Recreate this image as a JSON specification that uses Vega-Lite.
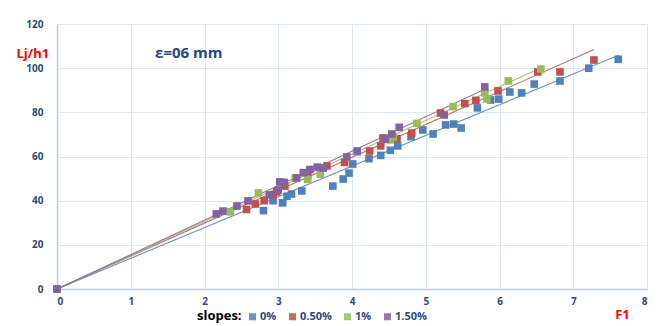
{
  "$schema": "https://vega.github.io/schema/vega-lite/v6.json",
  "width": 590,
  "height": 265,
  "autosize": {"type": "none"},
  "padding": {"left": 57, "top": 24, "right": 25, "bottom": 37},
  "background": "white",
  "config": {
    "view": {"stroke": null},
    "font": "Open Sans",
    "axis": {
      "gridColor": "#dce6f2",
      "gridWidth": 1,
      "domainColor": "#b8cce4",
      "domainWidth": 1.5,
      "ticks": false,
      "labelColor": "#2c4a78",
      "labelFont": "Open Sans",
      "labelFontWeight": "bold",
      "labelFontSize": 10,
      "titleFont": "Open Sans",
      "titleColor": "#ff0000",
      "titleFontWeight": "bold",
      "titleFontSize": 13
    }
  },
  "datasets": {
    "points": [
      {"series": "0%", "F1": 0, "Lj": 0},
      {"series": "0%", "F1": 2.8, "Lj": 35.5},
      {"series": "0%", "F1": 2.93, "Lj": 40},
      {"series": "0%", "F1": 3.06, "Lj": 39},
      {"series": "0%", "F1": 3.12, "Lj": 42},
      {"series": "0%", "F1": 3.18, "Lj": 43},
      {"series": "0%", "F1": 3.32, "Lj": 44.4},
      {"series": "0%", "F1": 3.74, "Lj": 46.6},
      {"series": "0%", "F1": 3.88, "Lj": 49.8},
      {"series": "0%", "F1": 3.96, "Lj": 52.5},
      {"series": "0%", "F1": 4.01, "Lj": 56.6},
      {"series": "0%", "F1": 4.23, "Lj": 59},
      {"series": "0%", "F1": 4.39, "Lj": 60.5},
      {"series": "0%", "F1": 4.52, "Lj": 62.8},
      {"series": "0%", "F1": 4.62, "Lj": 64.8},
      {"series": "0%", "F1": 4.8, "Lj": 69},
      {"series": "0%", "F1": 4.96, "Lj": 72},
      {"series": "0%", "F1": 5.1, "Lj": 70.2},
      {"series": "0%", "F1": 5.27, "Lj": 74.3},
      {"series": "0%", "F1": 5.38, "Lj": 74.7},
      {"series": "0%", "F1": 5.48, "Lj": 72.9},
      {"series": "0%", "F1": 5.7, "Lj": 82},
      {"series": "0%", "F1": 5.88, "Lj": 85.6},
      {"series": "0%", "F1": 5.99, "Lj": 86},
      {"series": "0%", "F1": 6.14, "Lj": 89.2},
      {"series": "0%", "F1": 6.3, "Lj": 88.8},
      {"series": "0%", "F1": 6.47, "Lj": 92.8},
      {"series": "0%", "F1": 6.82, "Lj": 94.2},
      {"series": "0%", "F1": 7.21, "Lj": 100},
      {"series": "0%", "F1": 7.61, "Lj": 104},
      {"series": "0.50%", "F1": 0, "Lj": 0},
      {"series": "0.50%", "F1": 2.57, "Lj": 36},
      {"series": "0.50%", "F1": 2.69, "Lj": 38.5},
      {"series": "0.50%", "F1": 2.81, "Lj": 40},
      {"series": "0.50%", "F1": 2.93, "Lj": 42.6},
      {"series": "0.50%", "F1": 2.98, "Lj": 44},
      {"series": "0.50%", "F1": 3.09, "Lj": 46.6},
      {"series": "0.50%", "F1": 3.4, "Lj": 51.6},
      {"series": "0.50%", "F1": 3.66, "Lj": 55.7},
      {"series": "0.50%", "F1": 3.9, "Lj": 57.3},
      {"series": "0.50%", "F1": 4.24, "Lj": 62.5},
      {"series": "0.50%", "F1": 4.39, "Lj": 64.8},
      {"series": "0.50%", "F1": 4.42, "Lj": 68.4},
      {"series": "0.50%", "F1": 4.61, "Lj": 68},
      {"series": "0.50%", "F1": 4.81, "Lj": 70.6},
      {"series": "0.50%", "F1": 5.2, "Lj": 79.7},
      {"series": "0.50%", "F1": 5.53, "Lj": 84},
      {"series": "0.50%", "F1": 5.68, "Lj": 85.4},
      {"series": "0.50%", "F1": 5.98, "Lj": 89.7},
      {"series": "0.50%", "F1": 6.52, "Lj": 98.3},
      {"series": "0.50%", "F1": 6.82, "Lj": 98.3},
      {"series": "0.50%", "F1": 7.28, "Lj": 103.7},
      {"series": "1%", "F1": 0, "Lj": 0},
      {"series": "1%", "F1": 2.35, "Lj": 34.9},
      {"series": "1%", "F1": 2.73, "Lj": 43.5},
      {"series": "1%", "F1": 3.23, "Lj": 50.3},
      {"series": "1%", "F1": 3.4, "Lj": 49.6},
      {"series": "1%", "F1": 3.57, "Lj": 52},
      {"series": "1%", "F1": 4.07, "Lj": 62},
      {"series": "1%", "F1": 4.52, "Lj": 67.5},
      {"series": "1%", "F1": 4.56, "Lj": 68.8},
      {"series": "1%", "F1": 4.88, "Lj": 75},
      {"series": "1%", "F1": 5.37, "Lj": 82.6},
      {"series": "1%", "F1": 5.8, "Lj": 88.8},
      {"series": "1%", "F1": 5.83, "Lj": 86},
      {"series": "1%", "F1": 6.12, "Lj": 94.2},
      {"series": "1%", "F1": 6.56, "Lj": 99.6},
      {"series": "1.50%", "F1": 0, "Lj": 0},
      {"series": "1.50%", "F1": 2.16, "Lj": 34},
      {"series": "1.50%", "F1": 2.25, "Lj": 35.3},
      {"series": "1.50%", "F1": 2.44, "Lj": 37.6},
      {"series": "1.50%", "F1": 2.59, "Lj": 39.9},
      {"series": "1.50%", "F1": 2.88, "Lj": 42.6},
      {"series": "1.50%", "F1": 3.0, "Lj": 44.8},
      {"series": "1.50%", "F1": 3.02, "Lj": 48.5},
      {"series": "1.50%", "F1": 3.08, "Lj": 48.3},
      {"series": "1.50%", "F1": 3.25, "Lj": 50.3},
      {"series": "1.50%", "F1": 3.34, "Lj": 52.7},
      {"series": "1.50%", "F1": 3.43, "Lj": 54.1},
      {"series": "1.50%", "F1": 3.53, "Lj": 55.2},
      {"series": "1.50%", "F1": 3.61, "Lj": 54.8},
      {"series": "1.50%", "F1": 3.93, "Lj": 59.8},
      {"series": "1.50%", "F1": 4.07, "Lj": 62.5},
      {"series": "1.50%", "F1": 4.45, "Lj": 67.9},
      {"series": "1.50%", "F1": 4.54, "Lj": 70.2},
      {"series": "1.50%", "F1": 4.64, "Lj": 73.2},
      {"series": "1.50%", "F1": 5.25, "Lj": 78.8},
      {"series": "1.50%", "F1": 5.8, "Lj": 91.5}
    ],
    "fits": [
      {"series": "0%", "F1": 0, "Lj": 0},
      {"series": "0%", "F1": 7.62, "Lj": 106},
      {"series": "0.50%", "F1": 0, "Lj": 0},
      {"series": "0.50%", "F1": 7.28, "Lj": 108.5},
      {"series": "1%", "F1": 0, "Lj": 0},
      {"series": "1%", "F1": 6.55, "Lj": 100},
      {"series": "1.50%", "F1": 0, "Lj": 0},
      {"series": "1.50%", "F1": 5.8, "Lj": 90.5}
    ]
  },
  "layer": [
    {
      "data": {"name": "fits"},
      "mark": {"type": "line", "strokeWidth": 1.1, "opacity": 0.85},
      "encoding": {
        "x": {"field": "F1", "type": "quantitative", "scale": {"domain": [0, 8], "nice": false}, "axis": {"title": "F1", "values": [0,1,2,3,4,5,6,7,8], "format": "d", "grid": true, "labelPadding": 7, "titleX": 565, "titleY": 25, "titleAlign": "center", "titleBaseline": "middle"}},
        "y": {"field": "Lj", "type": "quantitative", "scale": {"domain": [0, 120], "nice": false}, "axis": {"title": "Lj/h1", "values": [0,20,40,60,80,100,120], "format": "d", "grid": true, "labelPadding": 14, "titleAngle": 0, "titleAlign": "left", "titleBaseline": "middle", "titleX": -41, "titleY": 29}},
        "color": {"field": "series", "type": "nominal", "scale": {"domain": ["0%", "0.50%", "1%", "1.50%"], "range": ["#4F81BD", "#C0504D", "#9BBB59", "#8064A2"]}}
      }
    },
    {
      "data": {"name": "points"},
      "mark": {"type": "point", "shape": "square", "filled": true, "size": 58, "opacity": 1},
      "encoding": {
        "x": {"field": "F1", "type": "quantitative"},
        "y": {"field": "Lj", "type": "quantitative"},
        "color": {"field": "series", "type": "nominal", "legend": {"title": "slopes:", "orient": "none", "direction": "horizontal", "legendX": 140, "legendY": 287, "titleOrient": "left", "titleFont": "Open Sans", "titleFontSize": 13, "titleFontWeight": "bold", "titleColor": "#000000", "titleBaseline": "middle", "titlePadding": 5, "labelFont": "Open Sans", "labelFontSize": 11, "labelFontWeight": "bold", "labelColor": "#2c4a78", "symbolType": "square", "symbolSize": 50, "symbolOpacity": 1, "symbolStrokeWidth": 0, "columnPadding": 10, "labelOffset": 2}},
        "order": {"field": "series", "type": "nominal"}
      }
    },
    {
      "data": {"values": [{"label": "ε=06 mm"}]},
      "mark": {"type": "text", "align": "left", "baseline": "middle", "font": "Open Sans", "fontSize": 15, "fontWeight": "bold", "color": "#1f497d"},
      "encoding": {
        "x": {"datum": 1.33, "type": "quantitative"},
        "y": {"datum": 106.9, "type": "quantitative"},
        "text": {"field": "label"}
      }
    }
  ]
}
